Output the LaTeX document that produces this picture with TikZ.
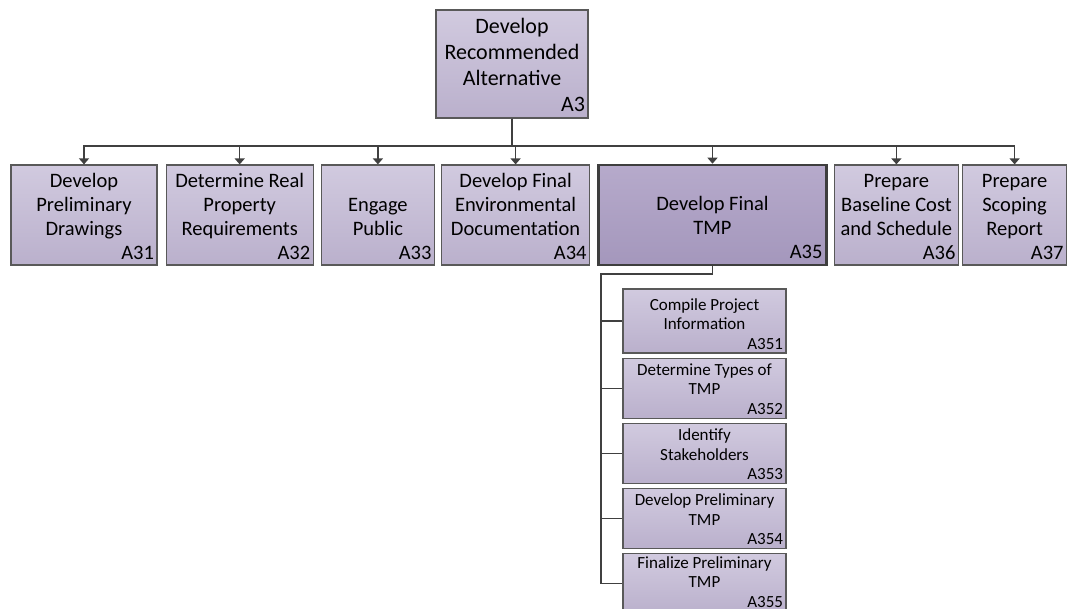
\documentclass[tikz,border=0pt]{standalone}
\usepackage{fontspec}
\setmainfont{Carlito}
\usetikzlibrary{positioning,arrows.meta}

\definecolor{boxtop}{HTML}{D1CADF}
\definecolor{boxbot}{HTML}{BAB0CC}
\definecolor{keytop}{HTML}{B6AACB}
\definecolor{keybot}{HTML}{A497BC}
\definecolor{edgegray}{HTML}{595959}
\definecolor{linegray}{HTML}{404040}

\begin{document}
\begin{tikzpicture}[x=1pt,y=-1pt,>={Triangle[width=10pt,length=6pt]},
    task/.style={draw=edgegray,line width=1.2pt,top color=boxtop,bottom color=boxbot,
        inner sep=0pt,minimum height=100pt},
    keytask/.style={task,draw=edgegray!70!black,line width=2.6pt,top color=keytop,bottom color=keybot},
    subtask/.style={task,minimum width=163pt,minimum height=60pt},
    tasktext/.style={anchor=south,align=flush center,inner xsep=3pt,inner ysep=6pt,
        font=\fontsize{20.5}{24}\selectfont},
    subtext/.style={tasktext,inner ysep=4pt,text width=157pt,font=\fontsize{17}{19.5}\selectfont},
    link/.style={draw=linegray,line width=1.3pt}]
    \useasboundingbox (0,0) rectangle (1068,609);

    % parent activity
    \node[task,minimum width=152pt,minimum height=108pt] (a3) at (512,64) {};
    \node[tasktext,text width=146pt,inner ysep=7pt,font=\fontsize{22}{26}\selectfont] (t3) at (a3.south)
        {Develop\\Recommended\\Alternative\\\hspace*{\fill}A3};

    % first level
    \node[task,minimum width=146pt] (a31) at (84,215) {};
    \node[task,minimum width=147pt] (a32) [right=8pt of a31] {};
    \node[task,minimum width=113pt] (a33) [right=7pt of a32] {};
    \node[task,minimum width=148pt] (a34) [right=6pt of a33] {};
    \node[keytask,minimum width=228pt] (a35) [right=7pt of a34] {};
    \node[task,minimum width=124pt] (a36) [right=6pt of a35] {};
    \node[task,minimum width=104pt] (a37) [right=3pt of a36] {};

    \node[tasktext,text width=140pt] (t31) at (a31.south) {Develop\\Preliminary\\Drawings\\\hspace*{\fill}A31};
    \node[tasktext,text width=141pt] (t32) at (a32.south) {Determine Real\\Property\\Requirements\\\hspace*{\fill}A32};
    \node[tasktext,text width=107pt] (t33) at (a33.south) {Engage\\Public\\\hspace*{\fill}A33};
    \node[tasktext,text width=142pt] (t34) at (a34.south) {Develop Final\\Environmental\\Documentation\\\hspace*{\fill}A34};
    \node[tasktext,text width=220pt,inner ysep=7pt] (t35) at (a35.south) {Develop Final\\TMP\\\hspace*{\fill}A35};
    \node[tasktext,text width=118pt] (t36) at (a36.south) {Prepare\\Baseline Cost\\and Schedule\\\hspace*{\fill}A36};
    \node[tasktext,text width=98pt] (t37) at (a37.south) {Prepare\\Scoping\\Report\\\hspace*{\fill}A37};

    \coordinate (bus) at (0,146);
    \foreach \t in {a31,a32,a33,a34,a35,a36,a37}
        \draw[link,->] (a3.south) |- (bus -| \t) -- (\t.north);

    % breakdown of A35
    \node[subtask,minimum height=64pt] (a351) at (704.5,321) {};
    \node[subtask] (a352) [below=4pt of a351] {};
    \node[subtask] (a353) [below=4pt of a352] {};
    \node[subtask] (a354) [below=4pt of a353] {};
    \node[subtask] (a355) [below=4pt of a354] {};

    \node[subtext] (t351) at (a351.south) {Compile Project\\Information\\\hspace*{\fill}A351};
    \node[subtext] (t352) at (a352.south) {Determine Types of\\TMP\\\hspace*{\fill}A352};
    \node[subtext] (t353) at (a353.south) {Identify\\Stakeholders\\\hspace*{\fill}A353};
    \node[subtext] (t354) at (a354.south) {Develop Preliminary\\TMP\\\hspace*{\fill}A354};
    \node[subtext,inner ysep=7pt] (t355) at (a355.south) {Finalize Preliminary\\TMP\\\hspace*{\fill}A355};

    \coordinate (trunk) at (601,274);
    \draw[link] (a35.south) |- (trunk) -- (trunk |- a355.west) -- (a355.west);
    \foreach \s in {a351,a352,a353,a354}
        \draw[link] (trunk |- \s.west) -- (\s.west);
\end{tikzpicture}
\end{document}
